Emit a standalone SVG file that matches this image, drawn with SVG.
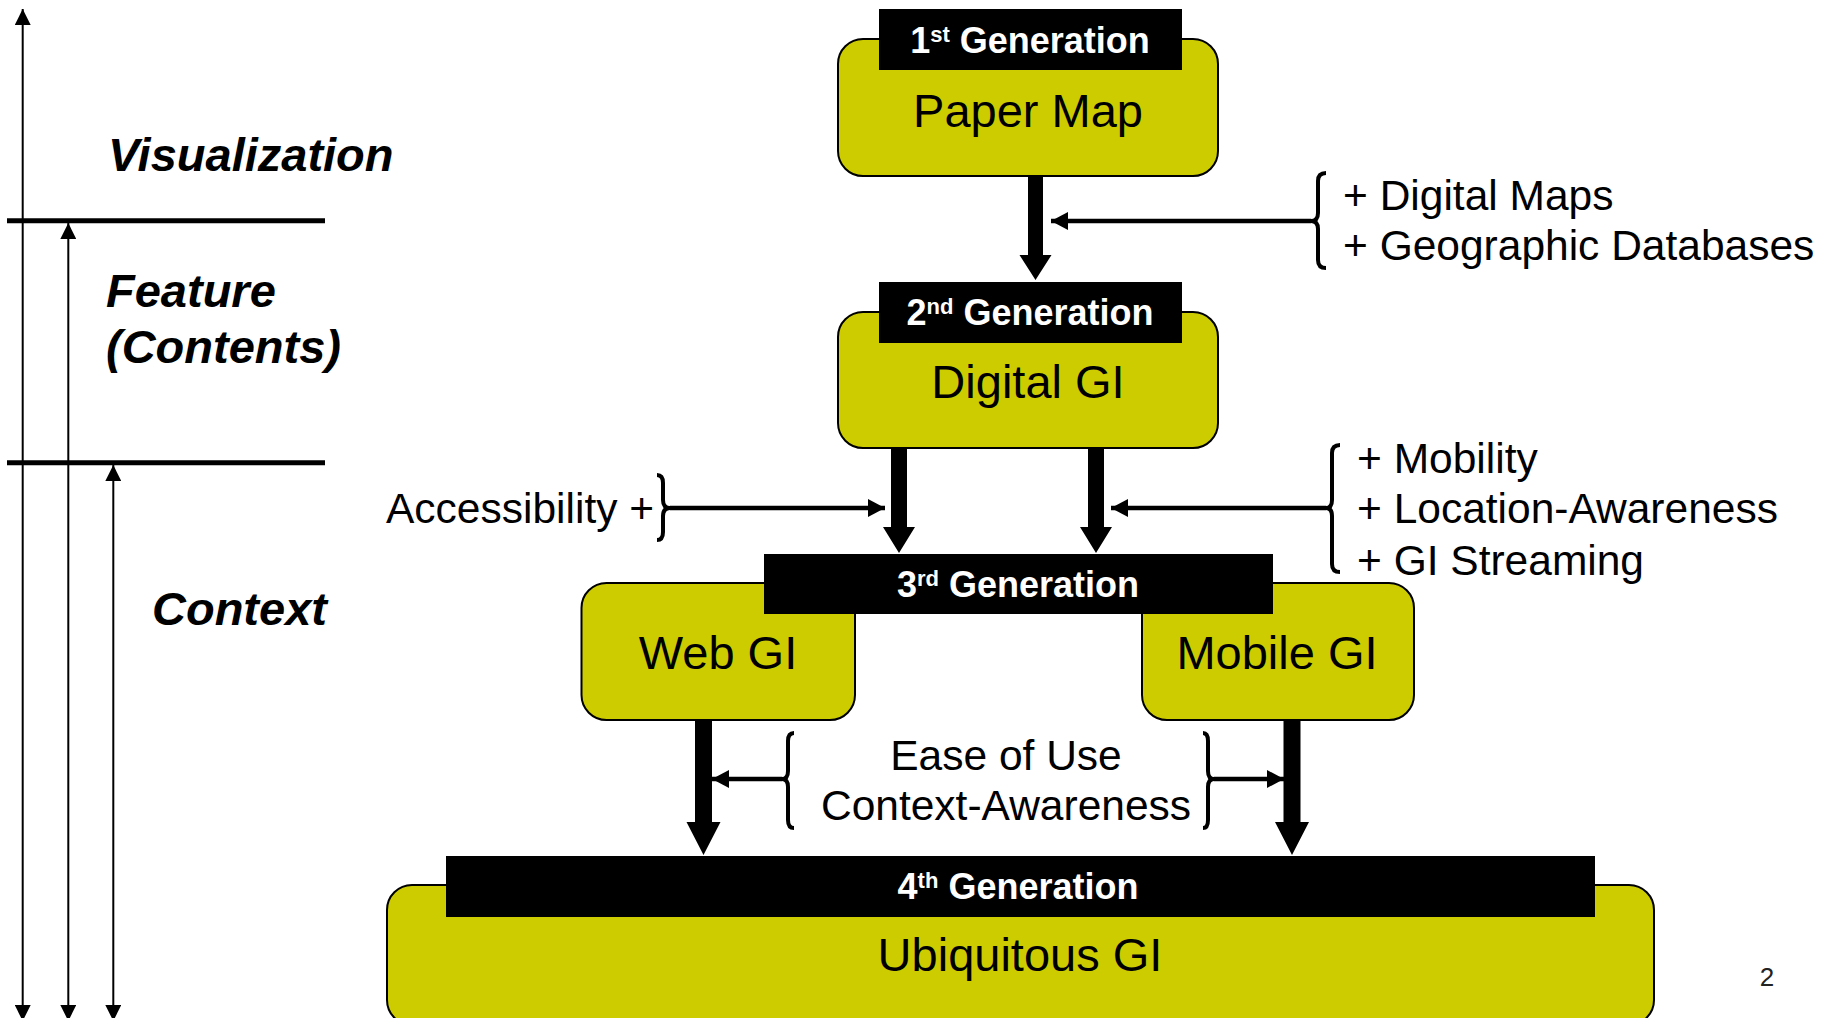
<svg xmlns="http://www.w3.org/2000/svg" width="1834" height="1018" viewBox="0 0 1834 1018">
  <style>
    .box { fill: #CCCC00; stroke: #000; stroke-width: 2; }
    .tag { fill: #000; }
    .tagtxt { font-family: "Liberation Sans", Arial, sans-serif; font-weight: bold; font-size: 36px; fill: #fff; text-anchor: middle; }
    .sup { font-size: 22px; }
    .boxtxt { font-family: "Liberation Sans", Arial, sans-serif; font-size: 47px; fill: #000; text-anchor: middle; }
    .side { font-family: "Liberation Sans", Arial, sans-serif; font-size: 42.5px; fill: #000; }
    .layer { font-family: "Liberation Sans", Arial, sans-serif; font-size: 47px; font-weight: bold; font-style: italic; fill: #000; }
    .thick { fill: #000; }
    .thin { stroke: #000; stroke-width: 4.5; fill: none; }
    .brace { stroke: #000; stroke-width: 4; fill: none; stroke-linejoin: round; }
    .axis { stroke: #000; stroke-width: 2; fill: none; }
    .sep { stroke: #000; stroke-width: 5; }
  </style>
  <defs>
    <marker id="headThin" markerUnits="userSpaceOnUse" markerWidth="18" markerHeight="18" refX="17" refY="9" orient="auto">
      <path d="M0,0 L17,9 L0,18 Z" fill="#000"/>
    </marker>
    <marker id="headAxis" markerUnits="userSpaceOnUse" markerWidth="16" markerHeight="16" refX="16" refY="8" orient="auto">
      <path d="M0,0 L16,8 L0,16 Z" fill="#000"/>
    </marker>
  </defs>

  <!-- layer scale on the left -->
  <g id="layer-scale">
    <line class="axis" x1="22.7" y1="500" x2="22.7" y2="9" marker-end="url(#headAxis)"/>
    <line class="axis" x1="22.7" y1="500" x2="22.7" y2="1021" marker-end="url(#headAxis)"/>
    <line class="axis" x1="68.3" y1="600" x2="68.3" y2="223" marker-end="url(#headAxis)"/>
    <line class="axis" x1="68.3" y1="600" x2="68.3" y2="1021" marker-end="url(#headAxis)"/>
    <line class="axis" x1="113.3" y1="700" x2="113.3" y2="465" marker-end="url(#headAxis)"/>
    <line class="axis" x1="113.3" y1="700" x2="113.3" y2="1021" marker-end="url(#headAxis)"/>
    <line class="sep" x1="7" y1="220.7" x2="325" y2="220.7"/>
    <line class="sep" x1="7" y1="462.7" x2="325" y2="462.7"/>
    <text class="layer" x="108" y="171">Visualization</text>
    <text class="layer" x="106" y="307">Feature</text>
    <text class="layer" x="106" y="363">(Contents)</text>
    <text class="layer" x="152" y="625">Context</text>
  </g>

  <!-- generation nodes -->
  <g id="gen1">
    <rect class="box" x="838" y="39" width="380" height="137" rx="25"/>
    <rect class="tag" x="879" y="9" width="303" height="61"/>
    <text class="tagtxt" x="1030" y="53">1<tspan class="sup" dy="-11">st</tspan><tspan dy="11"> Generation</tspan></text>
    <text class="boxtxt" x="1028" y="127">Paper Map</text>
  </g>

  <g id="gen2">
    <rect class="box" x="838" y="312" width="380" height="136" rx="25"/>
    <rect class="tag" x="879" y="282" width="303" height="61"/>
    <text class="tagtxt" x="1030" y="325">2<tspan class="sup" dy="-11">nd</tspan><tspan dy="11"> Generation</tspan></text>
    <text class="boxtxt" x="1028" y="398">Digital GI</text>
  </g>

  <g id="gen3">
    <rect class="box" x="581.5" y="583" width="273.5" height="137" rx="25"/>
    <rect class="box" x="1142" y="583" width="272" height="137" rx="25"/>
    <rect class="tag" x="764" y="554" width="509" height="60"/>
    <text class="tagtxt" x="1018" y="597">3<tspan class="sup" dy="-11">rd</tspan><tspan dy="11"> Generation</tspan></text>
    <text class="boxtxt" x="718" y="669">Web GI</text>
    <text class="boxtxt" x="1277" y="669">Mobile GI</text>
  </g>

  <g id="gen4">
    <rect class="box" x="387" y="885" width="1267" height="140" rx="25"/>
    <rect class="tag" x="446" y="856" width="1149" height="61"/>
    <text class="tagtxt" x="1018" y="899">4<tspan class="sup" dy="-11">th</tspan><tspan dy="11"> Generation</tspan></text>
    <text class="boxtxt" x="1020" y="971">Ubiquitous GI</text>
  </g>

  <!-- added capabilities -->
  <g id="notes">
    <text class="side" x="1343" y="210">+ Digital Maps</text>
    <text class="side" x="1343" y="260">+ Geographic Databases</text>
    <text class="side" x="386" y="523" font-size="40">Accessibility +</text>
    <text class="side" x="1357" y="473">+ Mobility</text>
    <text class="side" x="1357" y="523">+ Location-Awareness</text>
    <text class="side" x="1357" y="575">+ GI Streaming</text>
    <text class="side" x="1006" y="770" text-anchor="middle">Ease of Use</text>
    <text class="side" x="1006" y="820" text-anchor="middle">Context-Awareness</text>
  </g>

  <!-- connectors -->
  <g id="connectors">
    <!-- main flow arrows -->
    <polygon class="thick" points="1028,176 1043,176 1043,255 1051.5,255 1035.5,280 1019.5,255 1028,255"/>
    <polygon class="thick" points="891,448 907,448 907,527 915,527 899,553 883,527 891,527"/>
    <polygon class="thick" points="1088,448 1104,448 1104,527 1112,527 1096,553 1080,527 1088,527"/>
    <polygon class="thick" points="695,720 712,720 712,822 720.5,822 703.5,855 686.5,822 695,822"/>
    <polygon class="thick" points="1283.5,720 1300.5,720 1300.5,822 1309,822 1292,855 1275,822 1283.5,822"/>

    <!-- braces -->
    <path class="brace" d="M1326,173 Q1318,173 1318,181 L1318,213 Q1318,221 1311,221 Q1318,221 1318,229 L1318,260 Q1318,268 1326,268"/>
    <path class="brace" d="M657,475 Q663,475 663,483 L663,500 Q663,508 670,508 Q663,508 663,516 L663,532 Q663,540 657,540"/>
    <path class="brace" d="M1340,445 Q1332,445 1332,453 L1332,500 Q1332,508 1326,508 Q1332,508 1332,516 L1332,564 Q1332,572 1340,572"/>
    <path class="brace" d="M794,733 Q788,733 788,741 L788,771 Q788,779 782,779 Q788,779 788,787 L788,820 Q788,828 794,828"/>
    <path class="brace" d="M1203,733 Q1208,733 1208,741 L1208,771 Q1208,779 1214,779 Q1208,779 1208,787 L1208,820 Q1208,828 1203,828"/>

    <!-- feed-in arrows -->
    <line class="thin" x1="1311" y1="221" x2="1051" y2="221" marker-end="url(#headThin)"/>
    <line class="thin" x1="670" y1="508" x2="885" y2="508" marker-end="url(#headThin)"/>
    <line class="thin" x1="1326" y1="508" x2="1111" y2="508" marker-end="url(#headThin)"/>
    <line class="thin" x1="782" y1="779" x2="712" y2="779" marker-end="url(#headThin)"/>
    <line class="thin" x1="1214" y1="779" x2="1284" y2="779" marker-end="url(#headThin)"/>
  </g>

  <text x="1767" y="986" font-family="Liberation Sans, Arial, sans-serif" font-size="26" fill="#222" text-anchor="middle">2</text>
</svg>
